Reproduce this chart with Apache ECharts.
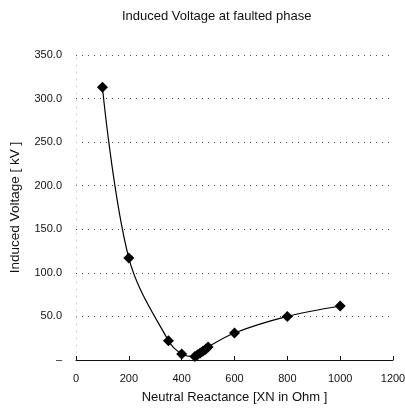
<!DOCTYPE html>
<html>
<head>
<meta charset="utf-8">
<script src="https://cdn.jsdelivr.net/npm/echarts@6/dist/echarts.min.js"></script>
<style>
  html, body { margin: 0; padding: 0; background: #fff; }
  #chart { width: 405px; height: 410px; }
</style>
</head>
<body>
<div id="chart"></div>
<script>
// data
const reactance = [100, 200, 350, 400, 450, 460, 470, 480, 490, 500, 600, 800, 1000];
const voltage = [313, 117, 22, 7, 4, 6, 8, 10, 12, 15, 31, 50, 62];
const xTicks = [0, 200, 400, 600, 800, 1000, 1200];
const yTicks = [0, 50, 100, 150, 200, 250, 300, 350];

const font = '"Liberation Sans", Arial, sans-serif';

const chart = echarts.init(document.getElementById('chart'));

const option = {
    animation: false,
    title: {
        text: 'Induced Voltage at faulted phase',
        left: 117,
        top: 5,
        textStyle: {fontSize: 13, fontWeight: 'normal', color: '#111', fontFamily: font},
    },
    // fixed plot box, labels are placed outside of it
    grid: {left: 76, right: 12, top: 55, bottom: 50, containLabel: false, outerBoundsMode: 'none'},
    xAxis: {
        type: 'value',
        min: xTicks[0],
        max: xTicks[xTicks.length - 1],
        interval: 200,
        name: 'Neutral Reactance [XN in Ohm ]',
        nameLocation: 'middle',
        nameGap: 31,
        nameTextStyle: {fontSize: 13, color: '#111', fontFamily: font},
        axisLine: {show: true, lineStyle: {color: '#111', width: 1}},
        axisTick: {show: true, inside: true, length: 4, lineStyle: {color: '#111'}},
        axisLabel: {
            fontSize: 11, color: '#111', fontFamily: font, margin: 13,
            formatter: (v) => String(v),
        },
        splitLine: {show: false},
    },
    yAxis: {
        type: 'value',
        min: yTicks[0],
        max: yTicks[yTicks.length - 1],
        interval: 50,
        name: 'Induced Voltage [ kV ]',
        nameLocation: 'middle',
        nameGap: 54,
        nameTextStyle: {fontSize: 13.5, color: '#111', fontFamily: font},
        axisLine: {show: true, lineStyle: {color: '#ccc', type: [1, 6]}},
        axisTick: {show: false},
        axisLabel: {
            fontSize: 11, color: '#111', fontFamily: font, margin: 14,
            formatter: (v) => v === 0 ? '\u2013' : v.toFixed(1),
        },
        splitLine: {show: true, lineStyle: {color: '#444', type: [1, 5], width: 1}},
    },
    series: [{
        type: 'line',
        smooth: 0.35,
        data: reactance.map((x, i) => [x, voltage[i]]),
        symbol: 'diamond',
        symbolSize: 11,
        itemStyle: {color: '#000'},
        lineStyle: {color: '#000', width: 1.2},
    }],
};
chart.setOption(option);
</script>
</body>
</html>
